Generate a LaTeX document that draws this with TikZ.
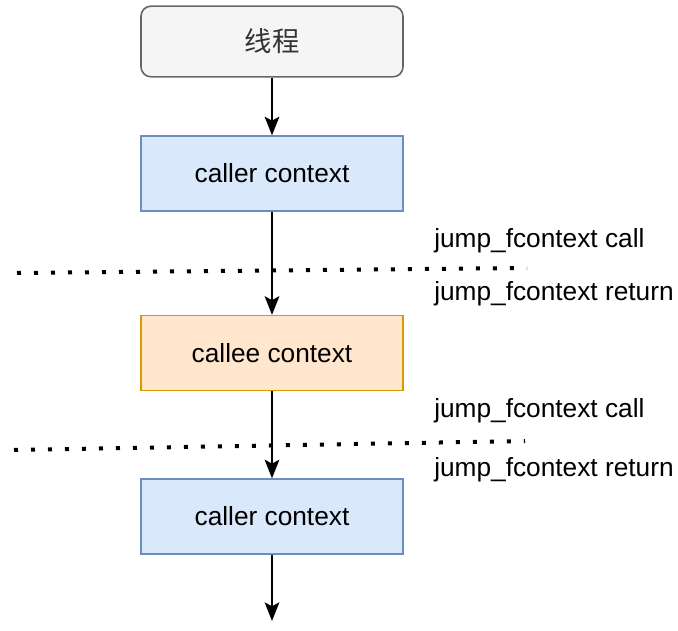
\documentclass[tikz,border=0pt]{standalone}
\usepackage{fontspec}
\setmainfont{Liberation Sans}
\newfontfamily\cjkfont{Noto Sans CJK SC}
\usetikzlibrary{arrows.meta}

\begin{document}
\begin{tikzpicture}[x=0.75pt,y=-0.75pt,
    ctxbox/.style={draw, line width=1.2pt, minimum width=196.5pt, minimum height=56pt,
        font=\fontsize{19.7}{23}\selectfont},
    flow/.style={line width=1.5pt, -{Stealth[length=14pt,width=11pt,inset=3pt]}},
    sep/.style={line width=3pt, dash pattern=on 3pt off 9.75pt},
    tag/.style={anchor=west, inner sep=0pt, font=\fontsize{19.7}{23}\selectfont}]
    % Define colors
    \definecolor{threadfill}{HTML}{F5F5F5}
    \definecolor{threadline}{HTML}{666666}
    \definecolor{threadtext}{HTML}{333333}
    \definecolor{callerfill}{HTML}{DAE8FC}
    \definecolor{callerline}{HTML}{6C8EBF}
    \definecolor{calleefill}{HTML}{FFE6CC}
    \definecolor{calleeline}{HTML}{D79B00}

    \useasboundingbox (0,0) rectangle (678,631);

    % Draw boxes
    \node[ctxbox, rounded corners=7.5pt, fill=threadfill, draw=threadline, text=threadtext,
        minimum height=53pt, font=\cjkfont\fontsize{20.5}{24}\selectfont] (thread) at (272,41.5) {线程};
    \node[ctxbox, fill=callerfill, draw=callerline] (caller1) at (272,173.5) {caller context};
    \node[ctxbox, fill=calleefill, draw=calleeline] (callee) at (272,353) {callee context};
    \node[ctxbox, fill=callerfill, draw=callerline] (caller2) at (272,516.5) {caller context};
    \coordinate (exit) at (272,621);

    % Draw dotted separators
    \draw[sep] (17,273) -- (527,268);
    \draw[sep] (14,450) -- (525,441);

    % Draw arrows
    \draw[flow] (thread) -- (caller1);
    \draw[flow] (caller1) -- (callee);
    \draw[flow] (callee) -- (caller2);
    \draw[flow] (caller2) -- (exit);

    % Label jumps
    \node[tag] (call1) at (434,241) {jump\_fcontext call};
    \node[tag] (ret1) at (434,294) {jump\_fcontext return};
    \node[tag] (call2) at (434,411) {jump\_fcontext call};
    \node[tag] (ret2) at (434,470) {jump\_fcontext return};
\end{tikzpicture}
\end{document}
